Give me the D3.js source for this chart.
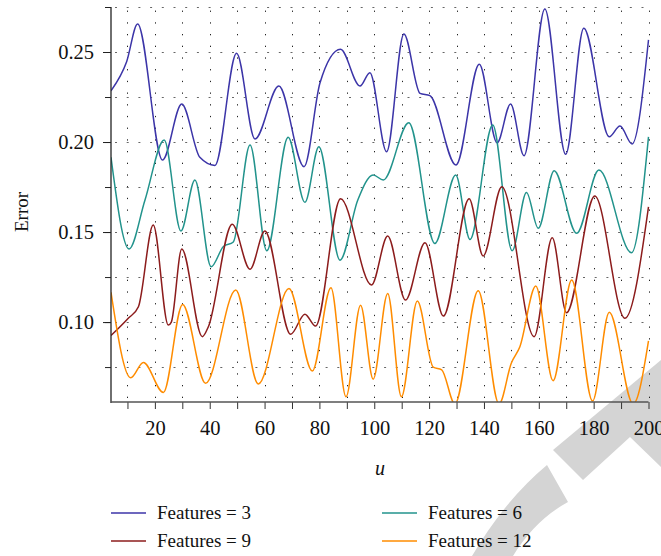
<!DOCTYPE html>
<html>
<head>
<meta charset="utf-8">
<script src="https://cdn.jsdelivr.net/npm/d3@7"></script>
<style>
  html, body { margin: 0; padding: 0; background: #fff; }
  svg { display: block; }
  text { font-family: "Liberation Serif", "DejaVu Serif", serif; fill: #111; }
</style>
</head>
<body>
<svg id="chart" width="661" height="556"></svg>
<script>
// ---------------- data ----------------
const xTickValues = [20, 40, 60, 80, 100, 120, 140, 160, 180, 200];
const yTickLabels = [0.10, 0.15, 0.20, 0.25];
const seriesNames = ["Features = 3", "Features = 6", "Features = 9", "Features = 12"];

const f3U = [4, 9.7, 13.7, 22.8, 29.8, 36.4, 41.9, 49.8, 56.5, 65.2, 74.4, 80.2, 87.7, 94.8, 98.4, 104.5, 110.8, 116.7, 120.3, 129.8, 138.3, 144.8, 149.7, 154.6, 162.2, 169.8, 176.4, 185.7, 189.6, 194.0, 200];
const f3V = [0.2285, 0.2446, 0.2656, 0.1900, 0.2211, 0.1915, 0.1870, 0.2493, 0.2017, 0.2311, 0.1863, 0.2328, 0.2515, 0.2311, 0.2385, 0.1946, 0.2600, 0.2270, 0.2258, 0.1872, 0.2432, 0.1996, 0.2211, 0.1924, 0.2739, 0.1932, 0.2632, 0.2029, 0.2089, 0.1989, 0.2567];

const f6U = [4, 10.6, 16.4, 23.4, 29.5, 34.6, 40.5, 45, 48.6, 54.7, 60.8, 68.6, 74.7, 79.8, 87.5, 94, 99.6, 103.3, 112.6, 122.1, 129.7, 134.9, 143.2, 150.3, 155.5, 159.8, 165.6, 173.8, 181.9, 193.8, 200];
const f6V = [0.1915, 0.1406, 0.1678, 0.2011, 0.1506, 0.1789, 0.1307, 0.1420, 0.1445, 0.1983, 0.1396, 0.2026, 0.1665, 0.1974, 0.1344, 0.1678, 0.1817, 0.1789, 0.2107, 0.1437, 0.1817, 0.1459, 0.2094, 0.1396, 0.1720, 0.1521, 0.1841, 0.1493, 0.1844, 0.1385, 0.2029];

const f9U = [4, 10.3, 14, 19.4, 24.9, 26.0, 29.8, 37.3, 39.5, 48.2, 54.7, 60.1, 69.5, 74.7, 78.6, 87.7, 99.0, 104.9, 111.4, 118.5, 125.2, 134.6, 139.7, 146.5, 158.3, 164.9, 170.1, 180.4, 191.4, 200];
const f9V = [0.0925, 0.1021, 0.1085, 0.1539, 0.0983, 0.1000, 0.1406, 0.0919, 0.0974, 0.1543, 0.1293, 0.1506, 0.0932, 0.1044, 0.0978, 0.1685, 0.1206, 0.1478, 0.1122, 0.1441, 0.1033, 0.1685, 0.1367, 0.1752, 0.0919, 0.1468, 0.1052, 0.1700, 0.1021, 0.1640];

const f12U = [4, 11.2, 15.8, 23.1, 30.1, 38.5, 49.5, 57.7, 68.9, 77.4, 84.2, 89.7, 95.0, 99.6, 104.9, 109.9, 115.7, 121.5, 124.6, 129.4, 137.9, 145.5, 150, 153.1, 158.9, 165.2, 172.0, 179.6, 185.7, 194.4, 200];
const f12V = [0.1165, 0.0691, 0.0776, 0.0609, 0.1098, 0.0660, 0.1178, 0.0656, 0.1187, 0.0728, 0.1191, 0.0585, 0.1094, 0.0683, 0.1159, 0.0585, 0.1117, 0.0750, 0.0735, 0.0545, 0.1174, 0.0545, 0.0773, 0.0863, 0.1200, 0.0674, 0.1233, 0.0561, 0.1054, 0.0545, 0.0896];

const seriesColors = ["#3c35a8", "#22938c", "#8c1c1c", "#ff8c00"];

// ---------------- layout ----------------
const svg = d3.select("#chart");
const pLeft = 111, pRight = 648.5, pTop = 7, pBottom = 402;
const x = d3.scaleLinear().domain([4, 200]).range([pLeft, pRight]);
const y = d3.scaleLinear().domain([0.0556, 0.275]).range([pBottom, pTop]);

// watermark (decorative, behind everything)
const wm = svg.append("g").attr("fill", "#d4d4d4");
wm.append("path").attr("d", "M553,450 L661,360 L661,467 L630,437 L583,480 Z");
wm.append("path").attr("d", "M547,465 Q505,500 472,556 L513,556 Q535,520 568,502 Z");

// grid
const grid = svg.append("g");
d3.range(10, 201, 10).forEach(u => {
  grid.append("line")
    .attr("x1", Math.round(x(u)) + 0.5).attr("x2", Math.round(x(u)) + 0.5)
    .attr("y1", pBottom - 4).attr("y2", pTop)
    .attr("stroke", "#222").attr("stroke-width", 1)
    .attr("stroke-dasharray", "1.3,10.4");
});
d3.range(0.075, 0.276, 0.025).forEach(v => {
  grid.append("line")
    .attr("x1", pLeft + 4).attr("x2", pRight)
    .attr("y1", Math.round(y(v)) + 0.5).attr("y2", Math.round(y(v)) + 0.5)
    .attr("stroke", "#666").attr("stroke-width", 1)
    .attr("stroke-dasharray", "2,9.7");
});

// clip
svg.append("clipPath").attr("id", "plotclip")
  .append("rect").attr("x", pLeft).attr("y", pTop).attr("width", pRight - pLeft + 2).attr("height", pBottom - pTop);

// lines
const allU = [f3U, f6U, f9U, f12U];
const allV = [f3V, f6V, f9V, f12V];
const line = d3.line().x(d => x(d[0])).y(d => y(d[1])).curve(d3.curveMonotoneX);
const linesG = svg.append("g").attr("clip-path", "url(#plotclip)");
allU.forEach((us, i) => {
  const pts = us.map((u, j) => [u, allV[i][j]]);
  linesG.append("path").datum(pts)
    .attr("d", line)
    .attr("fill", "none")
    .attr("stroke", seriesColors[i])
    .attr("stroke-width", 1.5);
});

// axes
const yAxisG = svg.append("g").attr("transform", `translate(${pLeft},0)`);
yAxisG.call(d3.axisLeft(y).tickValues(d3.range(0.075, 0.276, 0.025)).tickSize(6).tickFormat(""));
yAxisG.select(".domain").remove();
yAxisG.selectAll(".tick line").attr("stroke", "#222");
const yMajor = svg.append("g").attr("transform", `translate(${pLeft},0)`);
yMajor.call(d3.axisLeft(y).tickValues(yTickLabels).tickSize(8).tickPadding(9).tickFormat(d3.format(".2f")));
yMajor.select(".domain").remove();
yMajor.selectAll(".tick line").attr("stroke", "#222");
yMajor.selectAll("text").style("font-size", "20.5px").style("font-family", '"Liberation Serif", serif').attr("fill", "#111");
svg.append("line").attr("x1", pLeft).attr("x2", pLeft).attr("y1", pTop).attr("y2", pBottom + 1)
  .attr("stroke", "#222").attr("stroke-width", 1.3);

const xAxisG = svg.append("g").attr("transform", `translate(0,${pBottom})`);
xAxisG.call(d3.axisBottom(x).tickValues(d3.range(10, 201, 10)).tickSize(7)
  .tickFormat(d => xTickValues.includes(d) ? d : ""));
xAxisG.select(".domain").remove();
xAxisG.selectAll(".tick line").attr("stroke", "#333");
xAxisG.selectAll("text").attr("dy", "0").attr("y", 33).style("font-size", "20.5px")
  .style("font-family", '"Liberation Serif", serif').attr("fill", "#111");
svg.append("line").attr("x1", pLeft).attr("x2", pRight).attr("y1", pBottom).attr("y2", pBottom)
  .attr("stroke", "#555").attr("stroke-width", 1.5);

// axis titles
svg.append("text").attr("transform", "translate(28,212) rotate(-90)")
  .attr("text-anchor", "middle").style("font-size", "19px").text("Error");
svg.append("text").attr("x", 380).attr("y", 475)
  .attr("text-anchor", "middle").style("font-size", "20px").style("font-style", "italic").text("u");

// legend
const legendPos = [[111, 513], [382, 513], [111, 541], [382, 541]];
[0, 1, 2, 3].forEach((si, k) => {
  const [lx, ly] = legendPos[k];
  svg.append("line").attr("x1", lx).attr("x2", lx + 35).attr("y1", ly).attr("y2", ly)
    .attr("stroke", seriesColors[si]).attr("stroke-width", 1.4);
  svg.append("text").attr("x", lx + 46).attr("y", ly + 6)
    .style("font-size", "19px").text(seriesNames[si]);
});
</script>
</body>
</html>
